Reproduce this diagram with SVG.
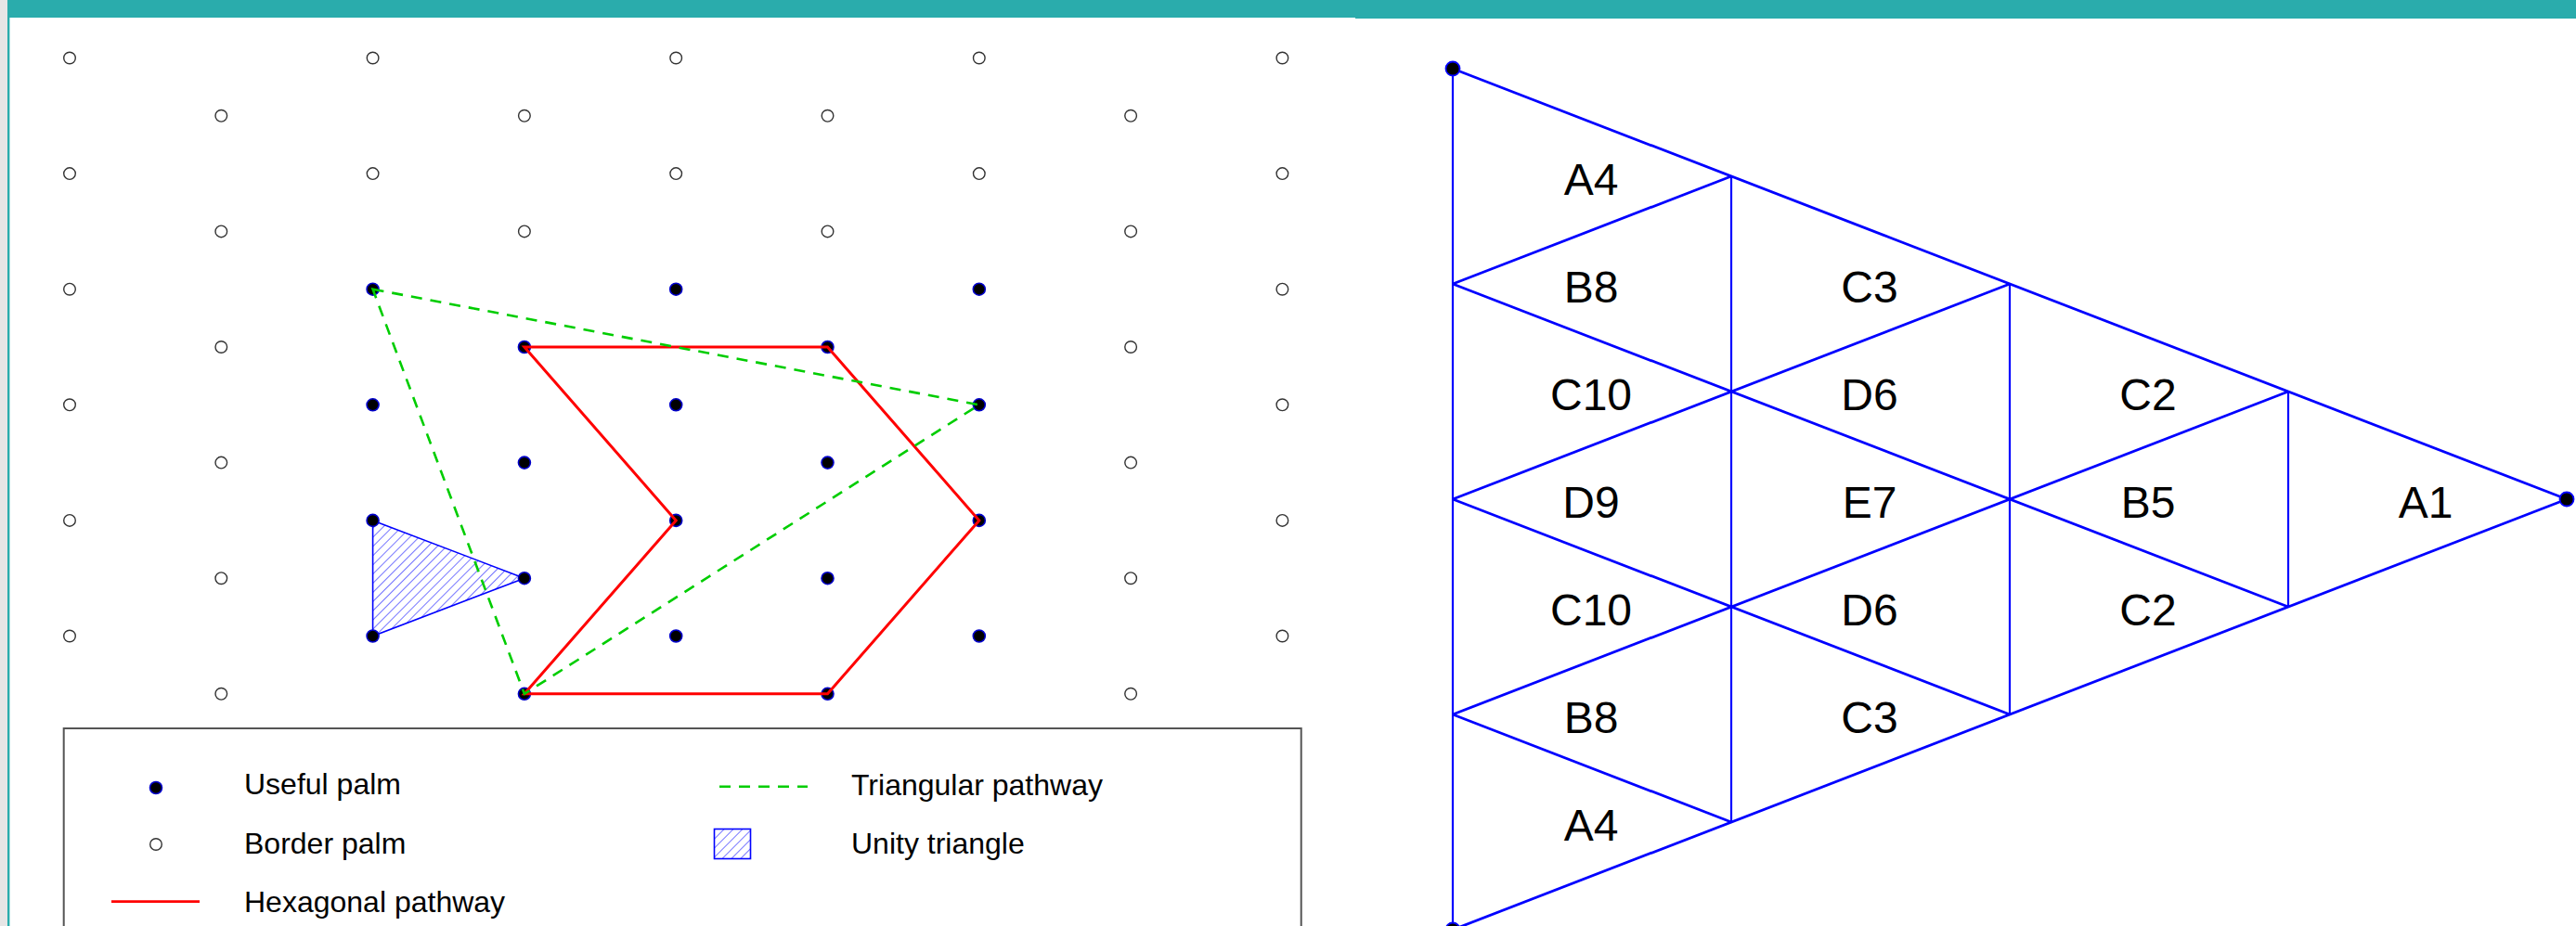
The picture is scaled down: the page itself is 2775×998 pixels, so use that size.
<svg xmlns="http://www.w3.org/2000/svg" width="2775" height="998" viewBox="0 0 2775 998">
<style>
.open{fill:#fff;stroke:#333;stroke-width:1.4}
.full{fill:#000;stroke:#0000cc;stroke-width:1.6}
.hex{fill:none;stroke:#ff0000;stroke-width:3;stroke-linejoin:miter}
.tri{fill:none;stroke:#00cd00;stroke-width:2.6;stroke-dasharray:12 9}
.lt{font-family:"Liberation Sans",Arial,sans-serif;font-size:32px;fill:#000}
.lab{font-family:"Liberation Sans",Arial,sans-serif;font-size:48px;fill:#000;text-anchor:middle}
.vl{stroke:#0000ff;stroke-width:2.2;fill:none}
.dl{stroke:#0000ff;stroke-width:2.8;fill:none}
.vd{fill:#000;stroke:#0000ff;stroke-width:1.8}
</style>
<defs>
<pattern id="hatch" patternUnits="userSpaceOnUse" width="7" height="7" patternTransform="rotate(45)">
<line x1="0" y1="0" x2="0" y2="7" stroke="#0000ff" stroke-width="1.1"/>
</pattern>
</defs>
<rect width="2775" height="998" fill="#fff"/>
<g id="frame">
<rect x="0" y="0" width="8" height="998" fill="#e6e6e6"/>
<rect x="8" y="0" width="2.4" height="998" fill="#2aacac"/>
<rect x="8" y="0" width="1452" height="19" fill="#2aacac"/>
<rect x="1460" y="0" width="1315" height="20" fill="#2aacac"/>
</g>
<g id="unity-triangle">
<polygon points="401.6,560.9 564.9,623.2 401.6,685.5" fill="url(#hatch)" stroke="#0000ff" stroke-width="1.6"/>
</g>
<g id="border-palms">
<circle class="open" cx="75" cy="62.5" r="6.3"/><circle class="open" cx="401.6" cy="62.5" r="6.3"/><circle class="open" cx="728.2" cy="62.5" r="6.3"/><circle class="open" cx="1054.8" cy="62.5" r="6.3"/><circle class="open" cx="1381.4" cy="62.5" r="6.3"/>
<circle class="open" cx="238.3" cy="124.8" r="6.3"/><circle class="open" cx="564.9" cy="124.8" r="6.3"/><circle class="open" cx="891.5" cy="124.8" r="6.3"/><circle class="open" cx="1218.1" cy="124.8" r="6.3"/>
<circle class="open" cx="75" cy="187.1" r="6.3"/><circle class="open" cx="401.6" cy="187.1" r="6.3"/><circle class="open" cx="728.2" cy="187.1" r="6.3"/><circle class="open" cx="1054.8" cy="187.1" r="6.3"/><circle class="open" cx="1381.4" cy="187.1" r="6.3"/>
<circle class="open" cx="238.3" cy="249.4" r="6.3"/><circle class="open" cx="564.9" cy="249.4" r="6.3"/><circle class="open" cx="891.5" cy="249.4" r="6.3"/><circle class="open" cx="1218.1" cy="249.4" r="6.3"/>
<circle class="open" cx="75" cy="311.7" r="6.3"/><circle class="open" cx="1381.4" cy="311.7" r="6.3"/>
<circle class="open" cx="238.3" cy="374" r="6.3"/><circle class="open" cx="1218.1" cy="374" r="6.3"/>
<circle class="open" cx="75" cy="436.3" r="6.3"/><circle class="open" cx="1381.4" cy="436.3" r="6.3"/>
<circle class="open" cx="238.3" cy="498.6" r="6.3"/><circle class="open" cx="1218.1" cy="498.6" r="6.3"/>
<circle class="open" cx="75" cy="560.9" r="6.3"/><circle class="open" cx="1381.4" cy="560.9" r="6.3"/>
<circle class="open" cx="238.3" cy="623.2" r="6.3"/><circle class="open" cx="1218.1" cy="623.2" r="6.3"/>
<circle class="open" cx="75" cy="685.5" r="6.3"/><circle class="open" cx="1381.4" cy="685.5" r="6.3"/>
<circle class="open" cx="238.3" cy="747.8" r="6.3"/><circle class="open" cx="1218.1" cy="747.8" r="6.3"/>
</g>
<g id="useful-palms">
<circle class="full" cx="401.6" cy="311.7" r="6.5"/><circle class="full" cx="728.2" cy="311.7" r="6.5"/><circle class="full" cx="1054.8" cy="311.7" r="6.5"/>
<circle class="full" cx="564.9" cy="374" r="6.5"/><circle class="full" cx="891.5" cy="374" r="6.5"/>
<circle class="full" cx="401.6" cy="436.3" r="6.5"/><circle class="full" cx="728.2" cy="436.3" r="6.5"/><circle class="full" cx="1054.8" cy="436.3" r="6.5"/>
<circle class="full" cx="564.9" cy="498.6" r="6.5"/><circle class="full" cx="891.5" cy="498.6" r="6.5"/>
<circle class="full" cx="401.6" cy="560.9" r="6.5"/><circle class="full" cx="728.2" cy="560.9" r="6.5"/><circle class="full" cx="1054.8" cy="560.9" r="6.5"/>
<circle class="full" cx="564.9" cy="623.2" r="6.5"/><circle class="full" cx="891.5" cy="623.2" r="6.5"/>
<circle class="full" cx="401.6" cy="685.5" r="6.5"/><circle class="full" cx="728.2" cy="685.5" r="6.5"/><circle class="full" cx="1054.8" cy="685.5" r="6.5"/>
<circle class="full" cx="564.9" cy="747.8" r="6.5"/><circle class="full" cx="891.5" cy="747.8" r="6.5"/>
</g>
<g id="connectors">
<polygon class="hex" points="564.9,374 891.5,374 1054.8,560.9 891.5,747.8 564.9,747.8 728.2,560.9"/>
<polygon class="tri" points="401.6,311.7 1054.8,436.3 564.9,747.8"/>
</g>
<g id="legend">
<rect x="68.7" y="785" width="1333" height="240" fill="none" stroke="#555" stroke-width="2"/>
<circle class="full" cx="168" cy="849" r="6.5"/>
<text class="lt" x="263" y="856">Useful palm</text>
<circle class="open" cx="168" cy="910" r="6.3"/>
<text class="lt" x="263" y="919.5">Border palm</text>
<line x1="120" y1="971.7" x2="215" y2="971.7" stroke="#ff0000" stroke-width="2.8"/>
<text class="lt" x="263" y="983">Hexagonal pathway</text>
<line x1="775" y1="847.7" x2="870" y2="847.7" stroke="#00cd00" stroke-width="2.6" stroke-dasharray="12 9"/>
<text class="lt" x="917" y="857">Triangular pathway</text>
<rect x="769.5" y="893.5" width="39" height="32" fill="url(#hatch)" stroke="#0000ff" stroke-width="1.6"/>
<text class="lt" x="917" y="919.5">Unity triangle</text>
</g>
<g id="triangle-grid">
<line class="vl" x1="1565" y1="74" x2="1565" y2="1002"/>
<line class="vl" x1="1865" y1="190" x2="1865" y2="886"/>
<line class="vl" x1="2165" y1="306" x2="2165" y2="770"/>
<line class="vl" x1="2465" y1="422" x2="2465" y2="654"/>
<line class="dl" x1="1565" y1="74" x2="2765" y2="538"/>
<line class="dl" x1="1565" y1="306" x2="2465" y2="654"/>
<line class="dl" x1="1565" y1="538" x2="2165" y2="770"/>
<line class="dl" x1="1565" y1="770" x2="1865" y2="886"/>
<line class="dl" x1="1565" y1="1002" x2="2765" y2="538"/>
<line class="dl" x1="1565" y1="770" x2="2465" y2="422"/>
<line class="dl" x1="1565" y1="538" x2="2165" y2="306"/>
<line class="dl" x1="1565" y1="306" x2="1865" y2="190"/>
<circle class="vd" cx="1565" cy="74" r="7.5"/>
<circle class="vd" cx="2765" cy="538" r="7.5"/>
<circle class="vd" cx="1565" cy="1002" r="7.5"/>
</g>
<g id="triangle-labels">
<text class="lab" x="1714" y="210">A4</text>
<text class="lab" x="1714" y="326">B8</text>
<text class="lab" x="2014" y="326">C3</text>
<text class="lab" x="1714" y="442">C10</text>
<text class="lab" x="2014" y="442">D6</text>
<text class="lab" x="2314" y="442">C2</text>
<text class="lab" x="1714" y="558">D9</text>
<text class="lab" x="2014" y="558">E7</text>
<text class="lab" x="2314" y="558">B5</text>
<text class="lab" x="2613" y="558">A1</text>
<text class="lab" x="1714" y="674">C10</text>
<text class="lab" x="2014" y="674">D6</text>
<text class="lab" x="2314" y="674">C2</text>
<text class="lab" x="1714" y="790">B8</text>
<text class="lab" x="2014" y="790">C3</text>
<text class="lab" x="1714" y="906">A4</text>
</g>
</svg>
